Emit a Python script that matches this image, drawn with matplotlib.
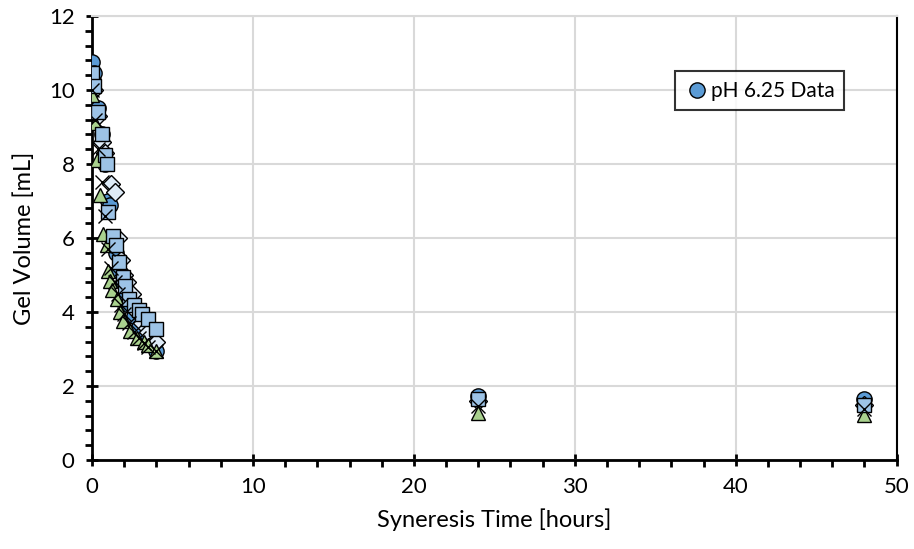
import matplotlib
matplotlib.use("Agg")
import matplotlib.pyplot as plt
from matplotlib.ticker import MultipleLocator

plt.rcParams['font.family'] = ['Lato', 'DejaVu Sans']

# syneresis time points [hours]
t_circ = [0, 0.1, 0.4, 0.6, 0.8, 1.0, 1.1, 1.3, 1.5, 1.7, 1.9, 2.1, 2.3, 2.6, 2.9, 3.2, 4.0, 24, 48]
v_circ = [10.75, 10.45, 9.5, 8.8, 8.0, 7.0, 6.9, 6.0, 5.6, 5.1, 4.8, 4.5, 4.2, 3.9, 3.6, 3.3, 2.95, 1.72, 1.65]

t_sq = [0, 0.1, 0.4, 0.6, 0.8, 0.9, 1.0, 1.3, 1.5, 1.7, 1.9, 2.05, 2.3, 2.6, 2.9, 3.1, 3.5, 4.0, 24, 48]
v_sq = [10.45, 10.1, 9.4, 8.8, 8.25, 8.0, 6.7, 6.05, 5.8, 5.35, 4.95, 4.7, 4.35, 4.2, 4.05, 3.95, 3.8, 3.55, 1.65, 1.5]

t_dia = [0, 0.1, 0.4, 0.6, 0.8, 1.2, 1.4, 1.6, 1.8, 2.0, 2.2, 2.5, 2.8, 3.1, 3.5, 4.0, 24, 48]
v_dia = [10.3, 10.0, 9.3, 8.6, 8.3, 7.45, 7.25, 6.0, 5.4, 5.0, 4.8, 4.5, 4.0, 3.7, 3.45, 3.2, 1.6, 1.5]

t_x = [0, 0.2, 0.4, 0.6, 0.8, 1.0, 1.2, 1.4, 1.6, 1.8, 2.0, 2.3, 2.6, 2.9, 3.2, 3.5, 4.0, 24, 48]
v_x = [10.0, 9.2, 8.4, 7.5, 6.6, 5.7, 5.2, 4.8, 4.5, 4.2, 3.95, 3.7, 3.45, 3.3, 3.15, 3.05, 2.95, 1.45, 1.38]

t_tri = [0, 0.2, 0.3, 0.5, 0.7, 0.9, 1.0, 1.1, 1.25, 1.55, 1.75, 1.9, 2.35, 2.8, 3.2, 3.5, 4.0, 24, 48]
v_tri = [9.85, 9.1, 8.1, 7.15, 6.1, 5.8, 5.1, 4.85, 4.6, 4.35, 4.0, 3.75, 3.5, 3.3, 3.2, 3.1, 2.95, 1.27, 1.22]

fig = plt.figure(figsize=(9.14, 5.49), dpi=100)
ax = fig.add_axes([0.1007, 0.162, 0.8803, 0.809])

ms = 10.5
ax.plot(t_circ, v_circ, 'o', ms=ms + 0.5, mfc='#5B9BD5', mec='black', mew=1.0,
        label='pH 6.25 Data', zorder=3)
ax.plot(t_dia, v_dia, 'D', ms=ms - 1.5, mfc='#DEEBF7', mec='black', mew=1.0, zorder=3)
ax.plot(t_tri, v_tri, '^', ms=ms, mfc='#A9D18E', mec='black', mew=1.0, zorder=3)
ax.plot(t_sq, v_sq, 's', ms=ms, mfc='#9DC3E6', mec='black', mew=1.0, zorder=4)
ax.plot(t_x, v_x, 'x', ms=ms - 1, mec='black', mew=1.0, zorder=5)

ax.set_xlim(0, 50)
ax.set_ylim(0, 12)
ax.xaxis.set_major_locator(MultipleLocator(10))
ax.xaxis.set_minor_locator(MultipleLocator(2))
ax.yaxis.set_major_locator(MultipleLocator(2))
ax.yaxis.set_minor_locator(MultipleLocator(0.4))

ax.grid(True, which='major', color='#D9D9D9', linewidth=1.5, zorder=0)
ax.set_axisbelow(True)
for s in ['left', 'bottom']:
    ax.spines[s].set_linewidth(2)
    ax.spines[s].set_color('black')
ax.spines['right'].set_linewidth(1.5)
ax.spines['right'].set_color('black')
ax.spines['top'].set_color('#D9D9D9')
ax.spines['top'].set_linewidth(1.5)

ax.tick_params(which='major', direction='inout', length=9, width=2, labelsize=16, pad=8)
ax.tick_params(which='minor', direction='out', length=5, width=2)
ax.tick_params(top=False, right=False, which='both')

ax.set_xlabel('Syneresis Time [hours]', fontsize=17, labelpad=8)
ax.set_ylabel('Gel Volume [mL]', fontsize=17, labelpad=10)

leg = ax.legend(loc='upper right', bbox_to_anchor=(0.935, 0.875), fontsize=15,
                frameon=True, fancybox=False, edgecolor='black',
                handletextpad=0.1, handlelength=1.2, borderpad=0.45,
                borderaxespad=0)
leg.get_frame().set_linewidth(1.5)

plt.savefig('out.png', dpi=100)
